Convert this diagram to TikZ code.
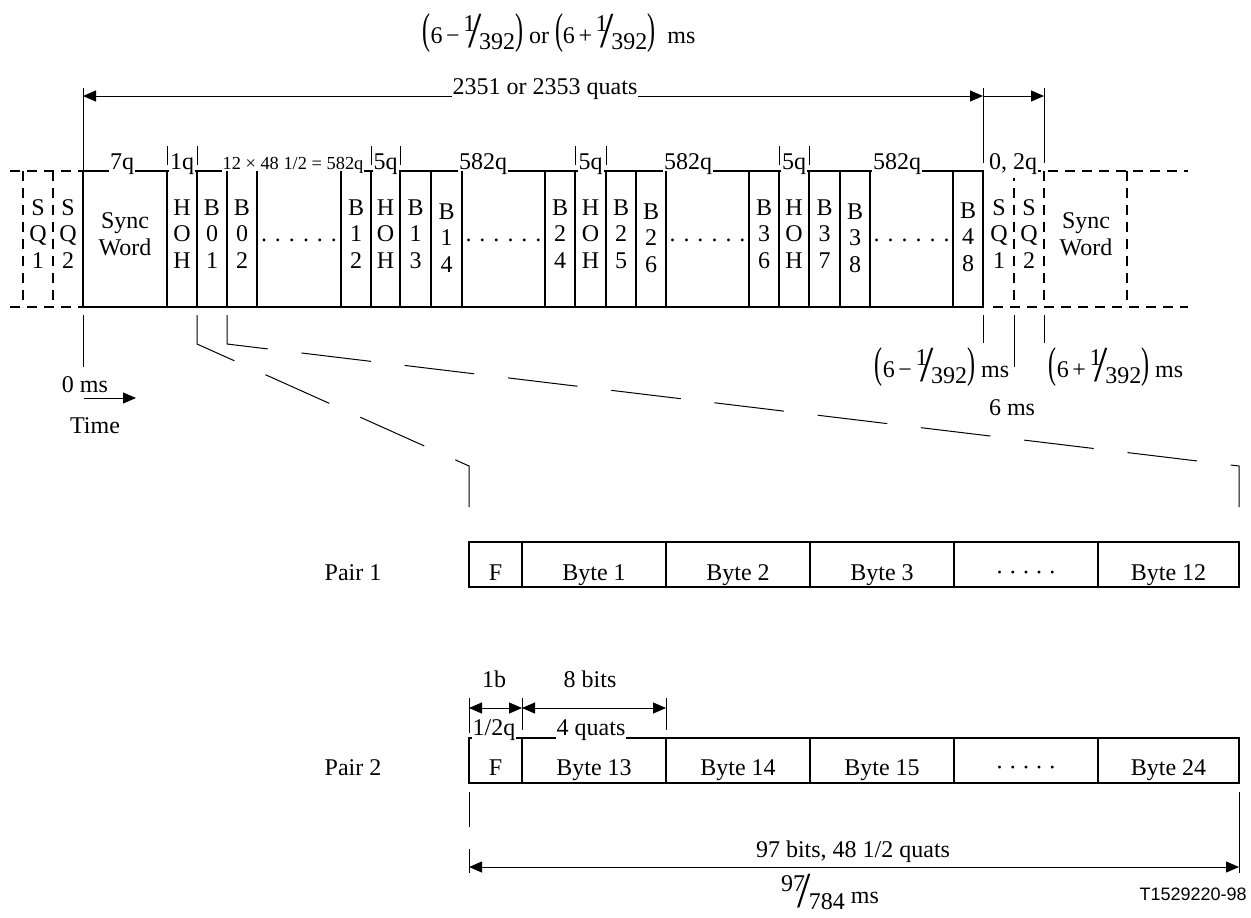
\documentclass[tikz,border=0pt]{standalone}
\usepackage{fontspec}
\setmainfont{Liberation Serif}
\newfontfamily\codefont{Liberation Sans}
\usetikzlibrary{arrows.meta}
\newcommand\lpar{\scalebox{1}[1.8]{(}}
\newcommand\rpar{\scalebox{1}[1.8]{)}}
\newcommand\slfrac[2]{\raisebox{0.5em}{#1}\kern-0.3em\raisebox{-0.19em}{\scalebox{2.0}[2.1]{/}}\kern-0.1em\raisebox{-0.25em}{#2}}
\newcommand\ptime[1]{\lpar6\kern0.15em#1\kern0.15em\slfrac{1}{392}\rpar}
\newcommand\dotrow{.\kern4pt.\kern4pt.\kern4pt.\kern4pt.\kern4pt.}
\newcommand\middots{·\kern2.6pt·\kern2.6pt·\kern2.6pt·\kern2.6pt·}
\tikzset{
  lbl/.style={font=\fontsize{12}{13.25}\selectfont, inner sep=0pt},
  cell/.style={lbl, align=center},
  onln/.style={lbl, fill=white, anchor=base, inner xsep=0.5pt, inner ysep=1.5pt},
  smallonln/.style={onln, font=\fontsize{9.2}{10}\selectfont},
  boxln/.style={line width=0.9pt},
  pboxln/.style={line width=0.75pt},
  dshbox/.style={line width=0.9pt, dash pattern=on 5pt off 3.5pt},
  thin/.style={line width=0.5pt},
  expand/.style={line width=0.5pt, dash pattern=on 35pt off 17pt},
  dim/.style={line width=0.5pt, {Triangle[length=6.5pt,width=5.5pt]}-{Triangle[length=6.5pt,width=5.5pt]}},
  dimr/.style={line width=0.5pt, -{Triangle[length=6.5pt,width=5.5pt]}},
}
\begin{document}
\begin{tikzpicture}[x=0.5pt,y=-0.5pt]
\useasboundingbox[fill=white] (0,0) rectangle (1251,917);

% ---------- top equation ----------
\node[lbl, anchor=base] (eqtop) at (559,43) {\ptime{−} or \ptime{+}\ \ ms};

% ---------- top dimension ----------
\coordinate (a0) at (83,96);
\coordinate (a1) at (983,96);
\coordinate (a2) at (1044,96);
\draw[thin] (83,88) -- (83,171);
\draw[thin] (983,88) -- (983,163);
\draw[thin] (1044,88) -- (1044,163);
\draw[dim] (a0) -- (a1);
\draw[dimr] (a1) -- (a2);
\node[onln] (quats) at (545,94.5) {2351 or 2353 quats};

% ---------- main frame ----------
\draw[boxln] (83,171) rectangle (983,307);

% left dashed part
\draw[dshbox] (10,171) -- (83,171);
\draw[dshbox] (10,307) -- (83,307);
\draw[dshbox] (23,171) -- (23,307);
\draw[dshbox] (53,171) -- (53,307);
% right dashed part
\draw[dshbox] (1014,171) -- (1188,171);
\draw[dshbox] (993,307) -- (1188,307);
\draw[dshbox] (1014,171) -- (1014,307);
\draw[dshbox] (1044,171) -- (1044,307);
\draw[dshbox] (1127,171) -- (1127,307);

% labels on top line
\node[onln] (l7q) at (122,169.5) {7q};
\node[onln] (l1q) at (182,169.5) {1q};
\node[smallonln] (l582a) at (293,169.5) {12 × 48 1/2 = 582q};
\node[onln] (l5qa) at (385.5,169.5) {5q};
\node[onln] (l582b) at (483,169.5) {582q};
\node[onln] (l5qb) at (590.5,169.5) {5q};
\node[onln] (l582c) at (688,169.5) {582q};
\node[onln] (l5qc) at (794,169.5) {5q};
\node[onln] (l582d) at (897,169.5) {582q};
\node[onln] (l02q) at (1013,169.5) {0, 2q};

% bars above
\foreach \x in {167,197,371,400,575,606,779,809}
  \draw[thin] (\x,146) -- (\x,165);

% cell separators
\foreach \x in {167,197,227,257,341,371,400,431,462,545,575,606,636,666,749,779,809,840,870,953}
  \draw[boxln] (\x,171) -- (\x,307);
\draw[boxln] (83,171) -- (83,307);
\draw[boxln] (983,171) -- (983,307);

% cell texts
\node[cell] (sq1l) at (38,234) {S\\Q\\1};
\node[cell] (sq2l) at (68,234) {S\\Q\\2};
\node[cell] (swl) at (125,234) {Sync\\Word};
\node[cell] (hoh1) at (182,234) {H\\O\\H};
\node[cell] (b01) at (212,234) {B\\0\\1};
\node[cell] (b02) at (242,234) {B\\0\\2};
\node[lbl, anchor=base] (d1) at (299,241) {\dotrow};
\node[cell] (b12) at (356,234) {B\\1\\2};
\node[cell] (hoh2) at (385.5,234) {H\\O\\H};
\node[cell] (b13) at (415.5,234) {B\\1\\3};
\node[cell] (b14) at (446.5,238) {B\\1\\4};
\node[lbl, anchor=base] (d2) at (503.5,241) {\dotrow};
\node[cell] (b24) at (560,234) {B\\2\\4};
\node[cell] (hoh3) at (590.5,234) {H\\O\\H};
\node[cell] (b25) at (621,234) {B\\2\\5};
\node[cell] (b26) at (651,238) {B\\2\\6};
\node[lbl, anchor=base] (d3) at (707.5,241) {\dotrow};
\node[cell] (b36) at (764,234) {B\\3\\6};
\node[cell] (hoh4) at (794,234) {H\\O\\H};
\node[cell] (b37) at (824.5,234) {B\\3\\7};
\node[cell] (b38) at (855,238) {B\\3\\8};
\node[lbl, anchor=base] (d4) at (911.5,241) {\dotrow};
\node[cell] (b48) at (968,237) {B\\4\\8};
\node[cell] (sq1r) at (999,234) {S\\Q\\1};
\node[cell] (sq2r) at (1029,234) {S\\Q\\2};
\node[cell] (swr) at (1086,234) {Sync\\Word};

% ---------- below frame ----------
\draw[thin] (83,315) -- (83,367);
\node[lbl, anchor=base] (zero) at (85,392) {0 ms};
\coordinate (t0) at (84,398);
\coordinate (t1) at (136,398);
\draw[dimr] (t0) -- (t1);
\node[lbl, anchor=base] (time) at (95,433) {Time};

\draw[thin] (983,315) -- (983,343);
\draw[thin] (1014,315) -- (1014,367);
\draw[thin] (1044,315) -- (1044,343);
\node[lbl, anchor=base] (tminus) at (942,377) {\ptime{−} ms};
\node[lbl, anchor=base] (tplus) at (1116,377) {\ptime{+} ms};
\node[lbl, anchor=base] (six) at (1012,415) {6 ms};

% ---------- expansion lines ----------
\draw[expand] (197,315) -- (197,344) -- (469,466) -- (469,507);
\draw[expand] (227,315) -- (227,344) -- (1239,466) -- (1239,507);

% ---------- Pair 1 ----------
\node[lbl, anchor=base] (p1) at (353,580) {Pair 1};
\draw[pboxln] (469,542) rectangle (1239,587);
\foreach \x in {522,666,810,954,1098}
  \draw[pboxln] (\x,542) -- (\x,587);
\node[lbl, anchor=base] (p1f) at (495.5,580) {F};
\node[lbl, anchor=base] (p1b1) at (594,580) {Byte 1};
\node[lbl, anchor=base] (p1b2) at (738,580) {Byte 2};
\node[lbl, anchor=base] (p1b3) at (882,580) {Byte 3};
\node[lbl, anchor=base] (p1d) at (1026,580) {\middots};
\node[lbl, anchor=base] (p1b12) at (1168.5,580) {Byte 12};

% ---------- Pair 2 ----------
\node[lbl, anchor=base] (p2) at (353,775) {Pair 2};
\draw[pboxln] (469,738) rectangle (1239,783);
\foreach \x in {522,666,810,954,1098}
  \draw[pboxln] (\x,738) -- (\x,783);
\node[lbl, anchor=base] (p2f) at (495.5,775) {F};
\node[lbl, anchor=base] (p2b13) at (594,775) {Byte 13};
\node[lbl, anchor=base] (p2b14) at (738,775) {Byte 14};
\node[lbl, anchor=base] (p2b15) at (882,775) {Byte 15};
\node[lbl, anchor=base] (p2d) at (1026,775) {\middots};
\node[lbl, anchor=base] (p2b24) at (1168.5,775) {Byte 24};

\node[lbl, anchor=base] (onebit) at (494,687) {1b};
\node[lbl, anchor=base] (eightbits) at (590,687) {8 bits};
\coordinate (f0) at (469,708);
\coordinate (f1) at (522,708);
\coordinate (f2) at (666,708);
\draw[thin] (469,698) -- (469,733);
\draw[thin] (522,698) -- (522,730);
\draw[thin] (666,698) -- (666,730);
\draw[dim] (f0) -- (f1);
\draw[dim] (f1) -- (f2);
\node[onln] (halfq) at (494,735) {1/2q};
\node[onln] (fourq) at (591,735) {4 quats};

% ---------- bottom dimension ----------
\draw[thin] (469,792) -- (469,827);
\draw[thin] (469,849) -- (469,873);
\draw[thin] (1239,792) -- (1239,873);
\coordinate (g0) at (469,867);
\coordinate (g1) at (1239,867);
\draw[dim] (g0) -- (g1);
\node[lbl, anchor=base] (bits97) at (853,857) {97 bits, 48 1/2 quats};
\node[lbl, anchor=base] (frac97) at (830,903) {\slfrac{97}{784} ms};
\node[anchor=base east, inner sep=0pt, font=\codefont\fontsize{9}{10}\selectfont] (code) at (1247,900) {T1529220-98};
\end{tikzpicture}
\end{document}
